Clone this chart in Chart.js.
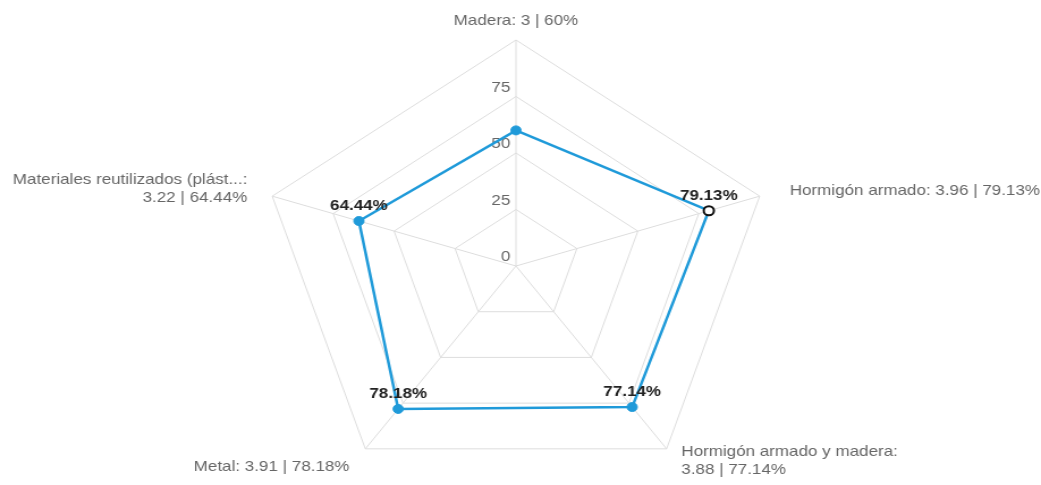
<!DOCTYPE html>
<html>
<head>
<meta charset="utf-8">
<script src="https://cdn.jsdelivr.net/npm/chart.js@4"></script>
<style>
  body { margin: 0; background: #fff; overflow: hidden; }
</style>
</head>
<body>
<!-- drawn narrower and stretched, the reference is wider than tall -->
<canvas id="chart" width="918" height="492" style="width:1041px;height:492px"></canvas>
<script>
// categories shown round the radar (one entry per line)
const categories = [
  ["Madera: 3 | 60%"],
  ["Hormigón armado: 3.96 | 79.13%"],
  ["Hormigón armado y madera:", "3.88 | 77.14%"],
  ["Metal: 3.91 | 78.18%"],
  ["Materiales reutilizados (plást...:", "3.22 | 64.44%"]
];
// percentage per category
const values = [60, 79.13, 77.14, 78.18, 64.44];
// which points get a label
const showLabel = [false, true, true, true, true];
// tick labels on the axis
const tickLabels = [0, 25, 50, 75];

const blue = "#1f9ad9";
const font = "'Liberation Sans', Arial, sans-serif";

// where each category text sits relative to the outer corner
const catAlign = ["center", "left", "left", "right", "right"];
const catDx = [0, 26.5, 13, -14, -22];
const catDy = [-19.5, -5, 3, 18.5, -16];

// category texts round the outside
const catPlugin = {
  id: "catText",
  afterDraw(chart) {
    const s = chart.scales.r;
    const c = chart.ctx;
    c.save();
    c.font = "15px " + font;
    c.fillStyle = "#666";
    c.textBaseline = "middle";
    categories.forEach((lines, i) => {
      const p = s.getPointPosition(i, s.drawingArea);
      c.textAlign = catAlign[i];
      lines.forEach((t, k) => {
        c.fillText(t, p.x + catDx[i], p.y + catDy[i] + k * 18);
      });
    });
    c.restore();
  }
};

// tick labels sit left of the vertical axis, a bit above the ring
const tickPlugin = {
  id: "tickText",
  beforeDatasetsDraw(chart) {
    const s = chart.scales.r;
    const c = chart.ctx;
    c.save();
    c.font = "15px " + font;
    c.fillStyle = "#666";
    c.textAlign = "right";
    c.textBaseline = "middle";
    tickLabels.forEach(v => {
      const y = s.yCenter - s.getDistanceFromCenterForValue(v);
      c.fillText(String(v), s.xCenter - 5, y - 9);
    });
    c.restore();
  }
};

// value labels above the points
const valuePlugin = {
  id: "valueText",
  afterDatasetsDraw(chart) {
    const c = chart.ctx;
    const pts = chart.getDatasetMeta(0).data;
    c.save();
    c.font = "bold 15px " + font;
    c.fillStyle = "#222";
    c.textAlign = "center";
    c.textBaseline = "middle";
    pts.forEach((p, i) => {
      if (!showLabel[i]) return;
      c.fillText(values[i].toFixed(2) + "%", p.x, p.y - 15);
    });
    c.restore();
  }
};

new Chart(document.getElementById("chart"), {
  type: "radar",
  data: {
    labels: categories.map(l => l.join(" ")),
    datasets: [{
      data: values,
      borderColor: blue,
      borderWidth: 2.5,
      fill: false,
      tension: 0,
      pointRadius: [4.5, 4.5, 4.5, 4.5, 4.5],
      pointBackgroundColor: [blue, "#fff", blue, blue, blue],
      pointBorderColor: [blue, "#111", blue, blue, blue],
      pointBorderWidth: [1, 2, 1, 1, 1]
    }]
  },
  options: {
    responsive: false,
    animation: false,
    layout: { padding: { top: 40, bottom: 0, left: 0, right: 8 } },
    plugins: {
      legend: { display: false },
      tooltip: { enabled: false }
    },
    scales: {
      r: {
        min: 0,
        max: 100,
        ticks: { stepSize: 25, display: false },
        grid: { color: "#ddd" },
        angleLines: { color: "#ddd" },
        pointLabels: { display: false }
      }
    }
  },
  plugins: [tickPlugin, valuePlugin, catPlugin]
});
</script>
</body>
</html>
